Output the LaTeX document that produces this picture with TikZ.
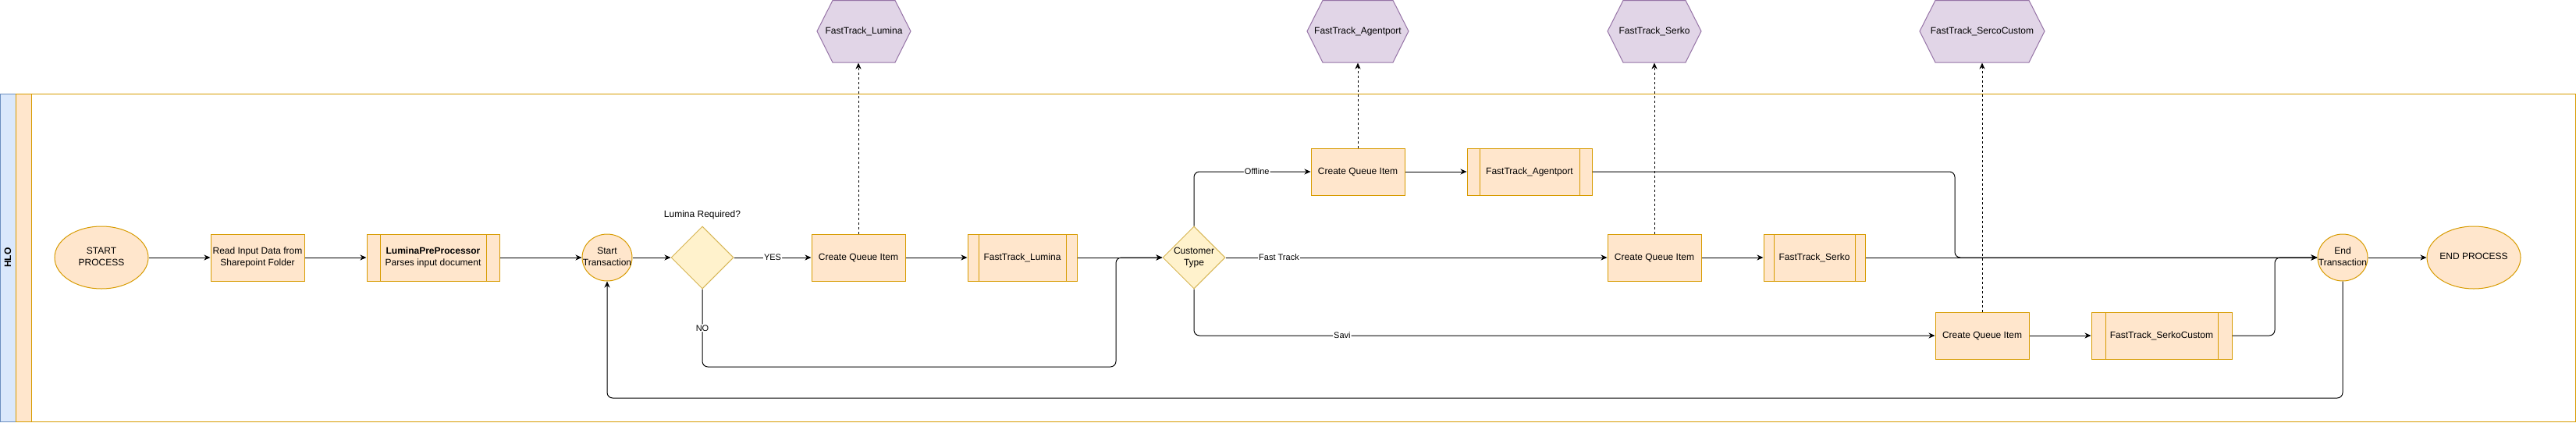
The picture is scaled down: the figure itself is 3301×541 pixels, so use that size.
\documentclass[tikz,border=0pt]{standalone}
\usepackage{fontspec}
\setmainfont{Liberation Sans}
\usepackage{tikz}
\usetikzlibrary{positioning, calc}
\usetikzlibrary{arrows.meta, shapes.geometric}

\newcommand{\overtext}[1]{\makebox[0pt]{\begin{tabular}{@{}c@{}}#1\end{tabular}}}

\begin{document}
\begin{tikzpicture}[x=1pt, y=-1pt, line width=1pt]
\definecolor{lanedraw}{HTML}{D79B00};
\definecolor{lanefill}{HTML}{FFE6CC};
\definecolor{diadraw}{HTML}{D6B656};
\definecolor{diafill}{HTML}{FFF2CC};
\definecolor{hexdraw}{HTML}{9673A6};
\definecolor{hexfill}{HTML}{E1D5E7};
\definecolor{pooldraw}{HTML}{6C8EBF};
\definecolor{poolfill}{HTML}{DAE8FC};
\tikzstyle{every node}=[font=\fontsize{12}{14.4}\selectfont];
\tikzstyle{box}=[draw=lanedraw, fill=lanefill, minimum height=60pt, inner sep=2pt];
\tikzstyle{subproc}=[box, path picture={
  \draw[draw=lanedraw] ($(path picture bounding box.north west)!0.1!(path picture bounding box.north east)$) -- ($(path picture bounding box.south west)!0.1!(path picture bounding box.south east)$);
  \draw[draw=lanedraw] ($(path picture bounding box.north east)!0.1!(path picture bounding box.north west)$) -- ($(path picture bounding box.south east)!0.1!(path picture bounding box.south west)$);}];
\tikzstyle{term}=[ellipse, draw=lanedraw, fill=lanefill, inner sep=0pt];
\tikzstyle{decision}=[diamond, draw=diadraw, fill=diafill, minimum width=80pt, minimum height=80pt, inner sep=0pt];
\tikzstyle{flow}=[-{Stealth[length=8pt,width=7pt,inset=2.5pt]}, rounded corners=7pt];
\tikzstyle{store}=[flow, dash pattern=on 3pt off 3pt];
\tikzstyle{elabel}=[fill=white, inner sep=1pt, font=\fontsize{11}{13}\selectfont];
\useasboundingbox (0,0) rectangle (3301,541);

% pool and lane
\draw[draw=pooldraw, fill=poolfill] (0.5,120) rectangle (20,540);
\draw[draw=lanedraw, fill=lanefill] (20,120) rectangle (40,540);
\draw[draw=lanedraw] (40,120) rectangle (3300,540);
\node[rotate=90, font=\bfseries\fontsize{12}{14.4}\selectfont] (hlo) at (10,330) {HLO};

% queues above the lane
\foreach \hname/\hx/\hw/\htxt in {hexlumina/1107/120/FastTrack\_Lumina, hexagent/1740/130/FastTrack\_Agentport, hexserko/2120/120/FastTrack\_Serko, hexcustom/2540/160/FastTrack\_SercoCustom} {
  \filldraw[draw=hexdraw, fill=hexfill] ({\hx-\hw/2},40) -- ({\hx-\hw/2+20},0.5) -- ({\hx+\hw/2-20},0.5) -- ({\hx+\hw/2},40) -- ({\hx+\hw/2-20},80) -- ({\hx-\hw/2+20},80) -- cycle;
  \node[minimum width=\hw pt, minimum height=80pt, inner sep=0pt] (\hname) at (\hx,40) {\htxt};
}

% process steps
\node[term, minimum width=120pt, minimum height=80pt] (start) at (130,330) {\overtext{START\\PROCESS}};
\node[box, minimum width=120pt] (readin) at (330,330) {\overtext{Read Input Data from\\Sharepoint Folder}};
\node[subproc, minimum width=170pt] (prep) at (555,330) {\overtext{\textbf{LuminaPreProcessor}\\Parses input document}};
\node[term, minimum width=64pt, minimum height=60pt] (starttx) at (778,330) {\overtext{Start\\Transaction}};
\node[decision] (lumreq) at (900,330) {};
\node (lumq) at (900,275) {Lumina Required?};
\node[box, minimum width=120pt] (cqi1) at (1100,330) {Create Queue Item};
\node[subproc, minimum width=140pt] (ftlum) at (1310,330) {FastTrack\_Lumina};
\node[decision] (custtype) at (1530,330) {\overtext{Customer\\Type}};
\node[box, minimum width=120pt] (cqi2) at (1740,220) {Create Queue Item};
\node[subproc, minimum width=160pt] (ftagent) at (1960,220) {FastTrack\_Agentport};
\node[box, minimum width=120pt] (cqi3) at (2120,330) {Create Queue Item};
\node[subproc, minimum width=130pt] (ftserko) at (2325,330) {FastTrack\_Serko};
\node[box, minimum width=120pt] (cqi4) at (2540,430) {Create Queue Item};
\node[subproc, minimum width=180pt] (ftcustom) at (2770,430) {FastTrack\_SerkoCustom};
\node[term, minimum width=64pt, minimum height=60pt] (endtx) at (3002,330) {\overtext{End\\Transaction}};
\node[term, minimum width=120pt, minimum height=80pt] (endproc) at (3170,330) {\overtext{END PROCESS}};

\coordinate (nobend) at (1430,470);
\coordinate (agbend) at (2505,330);
\coordinate (cubend) at (2915,330);
\coordinate (backy) at (0,510);

% connectors
\draw[flow] (start) -- (readin);
\draw[flow] (readin) -- (prep);
\draw[flow] (prep) -- (starttx);
\draw[flow] (starttx) -- (lumreq);
\draw[flow] (lumreq) -- node[elabel]{YES} (cqi1);
\draw[flow] (cqi1) -- (ftlum);
\draw[flow] (ftlum) -- (custtype);
\draw[flow] (lumreq.south) -- node[elabel]{NO} (lumreq.south |- nobend) -| (nobend |- custtype.west) -- (custtype.west);
\draw[flow] (custtype.north) |- node[elabel, pos=0.77]{Offline} (cqi2.west);
\draw[flow] (custtype.east) -- node[elabel, pos=0.14]{Fast Track} (cqi3.west);
\draw[flow] (custtype.south) |- node[elabel, pos=0.6]{Savi} (cqi4.west);
\draw[flow] (cqi2) -- (ftagent);
\draw[flow] (cqi3) -- (ftserko);
\draw[flow] (cqi4) -- (ftcustom);
\draw[flow] (ftagent.east) -| (agbend) -- (endtx.west);
\draw[flow] (ftserko) -- (endtx);
\draw[flow] (ftcustom.east) -| (cubend) -- (endtx.west);
\draw[flow] (endtx) -- (endproc);
\draw[flow] (endtx.south) -- (endtx.south |- backy) -| (starttx.south);
\foreach \q/\h in {cqi1/hexlumina, cqi2/hexagent, cqi3/hexserko, cqi4/hexcustom}
  \draw[store] (\q.north) -- (\q.north |- \h.south);
\end{tikzpicture}
\end{document}
